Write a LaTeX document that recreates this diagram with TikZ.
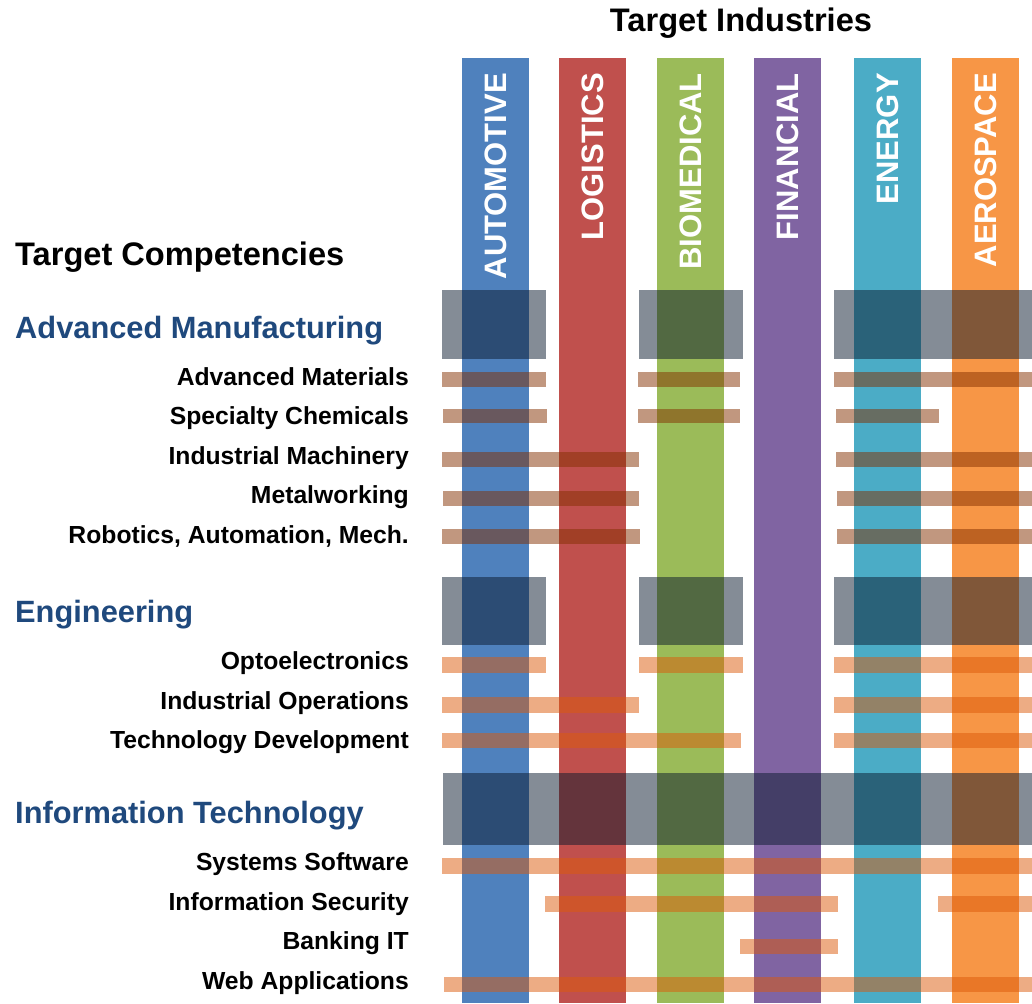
\documentclass[tikz,border=0pt]{standalone}
\usepackage{fontspec}
\setmainfont{Liberation Sans}

\definecolor{autoblue}{HTML}{4F81BD}
\definecolor{logred}{HTML}{C0504D}
\definecolor{biogreen}{HTML}{9BBB59}
\definecolor{finpurple}{HTML}{8064A2}
\definecolor{enteal}{HTML}{4BACC6}
\definecolor{aeroorange}{HTML}{F79646}
\definecolor{headblue}{HTML}{1F497D}
\definecolor{boxnavy}{RGB}{10,25,45}
\definecolor{mfgbrown}{RGB}{132,48,0}
\definecolor{engorange}{RGB}{220,90,10}

\tikzset{
  industry/.style={rotate=90, anchor=east, inner sep=0pt, text=white,
    font=\bfseries\fontsize{31}{31}\selectfont},
  bigtitle/.style={anchor=base west, inner sep=0pt,
    font=\bfseries\fontsize{32.6}{33}\selectfont},
  heading/.style={anchor=base west, inner sep=0pt, text=headblue,
    font=\bfseries\fontsize{30.8}{31}\selectfont},
  competency/.style={anchor=base east, inner sep=0pt,
    font=\bfseries\fontsize{24.7}{25}\selectfont},
  groupbox/.style={fill=boxnavy, fill opacity=0.5},
  mfgbar/.style={fill=mfgbrown, fill opacity=0.5},
  engbar/.style={fill=engorange, fill opacity=0.5}
}

\begin{document}
\begin{tikzpicture}[x=1pt, y=-1pt]
\useasboundingbox (0,0) rectangle (1032,1003);

% Industry columns
\foreach \x/\c/\n/\lab in {462/autoblue/auto/AUTOMOTIVE, 559/logred/logi/LOGISTICS,
    657/biogreen/bio/BIOMEDICAL, 754/finpurple/fin/FINANCIAL,
    854/enteal/energy/ENERGY, 952/aeroorange/aero/AEROSPACE} {
  \fill[\c] (\x,58) rectangle ++(67,945);
  \node[industry] (\n) at (\x+33.5,73) {\lab};
}

% Titles
\node[bigtitle, anchor=base] (industries) at (741,32) {Target Industries};
\node[bigtitle] (competencies) at (15,265) {Target Competencies};

% Advanced Manufacturing
\node[heading] (mfg) at (15,338) {Advanced Manufacturing};
\fill[groupbox] (442,290) rectangle (546,359);
\fill[groupbox] (639,290) rectangle (743,359);
\fill[groupbox] (834,290) rectangle (1032,359);

\node[competency] (materials) at (409,385) {Advanced Materials};
\fill[mfgbar] (442,372) rectangle (546,387);
\fill[mfgbar] (638,372) rectangle (740,387);
\fill[mfgbar] (834,372) rectangle (1032,387);

\node[competency] (chemicals) at (409,424) {Specialty Chemicals};
\fill[mfgbar] (443,409) rectangle (547,423);
\fill[mfgbar] (638,409) rectangle (740,423);
\fill[mfgbar] (836,409) rectangle (939,423);

\node[competency] (machinery) at (409,464) {Industrial Machinery};
\fill[mfgbar] (442,452) rectangle (639,467);
\fill[mfgbar] (836,452) rectangle (1032,467);

\node[competency] (metal) at (409,503) {Metalworking};
\fill[mfgbar] (443,491) rectangle (639,506);
\fill[mfgbar] (837,491) rectangle (1032,506);

\node[competency] (robotics) at (409,543) {Robotics, Automation, Mech.};
\fill[mfgbar] (442,529) rectangle (640,544);
\fill[mfgbar] (837,529) rectangle (1032,544);

% Engineering
\node[heading] (eng) at (15,622) {Engineering};
\fill[groupbox] (442,577) rectangle (546,645);
\fill[groupbox] (639,577) rectangle (743,645);
\fill[groupbox] (834,577) rectangle (1032,645);

\node[competency] (opto) at (409,669) {Optoelectronics};
\fill[engbar] (442,657) rectangle (546,673);
\fill[engbar] (639,657) rectangle (743,673);
\fill[engbar] (834,657) rectangle (1032,673);

\node[competency] (operations) at (409,709) {Industrial Operations};
\fill[engbar] (442,697) rectangle (639,713);
\fill[engbar] (834,697) rectangle (1032,713);

\node[competency] (techdev) at (409,748) {Technology Development};
\fill[engbar] (442,733) rectangle (741,748);
\fill[engbar] (834,733) rectangle (1032,748);

% Information Technology
\node[heading] (it) at (15,823) {Information Technology};
\fill[groupbox] (443,773) rectangle (1032,845);

\node[competency] (software) at (409,870) {Systems Software};
\fill[engbar] (442,858) rectangle (1032,874);

\node[competency] (security) at (409,910) {Information Security};
\fill[engbar] (545,896) rectangle (838,912);
\fill[engbar] (938,896) rectangle (1032,912);

\node[competency] (banking) at (409,949) {Banking IT};
\fill[engbar] (740,939) rectangle (838,954);

\node[competency] (web) at (409,989) {Web Applications};
\fill[engbar] (444,977) rectangle (1032,992);

\end{tikzpicture}
\end{document}
